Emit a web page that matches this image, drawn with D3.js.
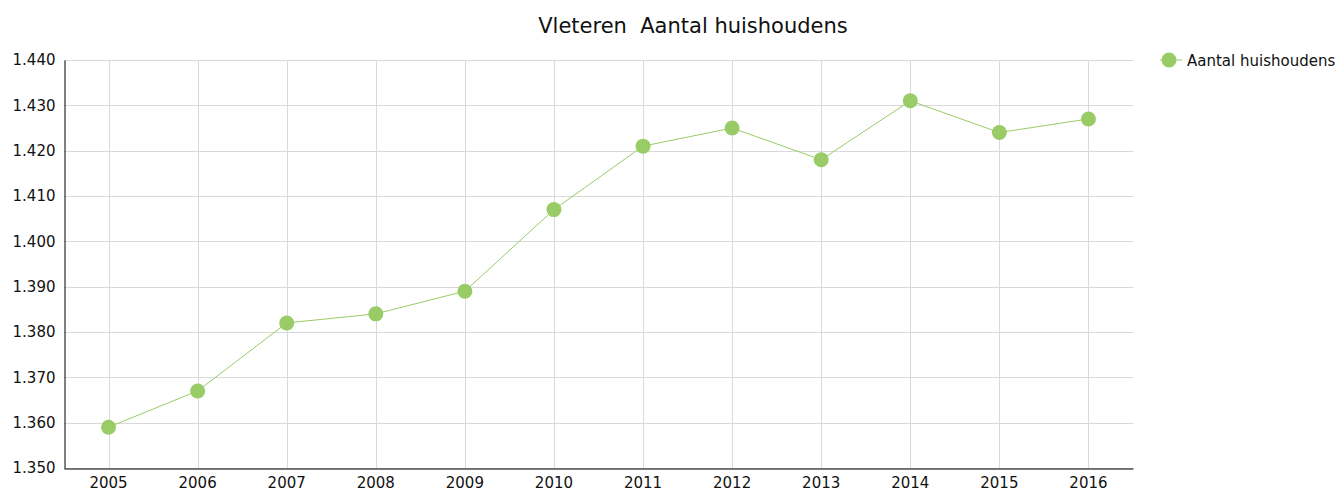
<!DOCTYPE html>
<html>
<head>
<meta charset="utf-8">
<script src="https://cdn.jsdelivr.net/npm/d3@7"></script>
<style>
  body { margin: 0; background: #fff; }
  text { font-family: "DejaVu Sans", sans-serif; fill: #111; }
</style>
</head>
<body>
<div id="chart"></div>
<script>
// data
var years = ["2005", "2006", "2007", "2008", "2009", "2010", "2011", "2012", "2013", "2014", "2015", "2016"];
var households = [1359, 1367, 1382, 1384, 1389, 1407, 1421, 1425, 1418, 1431, 1424, 1427];
var yTicks = [1350, 1360, 1370, 1380, 1390, 1400, 1410, 1420, 1430, 1440];

var svgWidth = 1342;
var svgHeight = 498;
var margin = { top: 60, right: 209, bottom: 30, left: 64 };
var width = svgWidth - margin.left - margin.right;
var height = svgHeight - margin.top - margin.bottom;
var green = "#99cc66";

var svg = d3.select("#chart").append("svg")
  .attr("width", svgWidth)
  .attr("height", svgHeight);

var chartGroup = svg.append("g")
  .attr("transform", `translate(${margin.left}, ${margin.top})`);

var xScale = d3.scaleBand().domain(years).range([0, width]);
var yScale = d3.scaleLinear().domain([1350, 1440]).range([height, 0]);

// 1.350 style labels
var fmt = d => d3.format(".3f")(d / 1000);

// grid
chartGroup.append("g").selectAll("line")
  .data(yTicks).enter().append("line")
  .attr("x1", 0).attr("x2", width)
  .attr("y1", d => Math.round(yScale(d)) + 0.5).attr("y2", d => Math.round(yScale(d)) + 0.5)
  .attr("stroke", "#d9d9d9");

chartGroup.append("g").selectAll("line")
  .data(years).enter().append("line")
  .attr("x1", d => Math.round(xScale(d) + xScale.bandwidth() / 2) + 0.5)
  .attr("x2", d => Math.round(xScale(d) + xScale.bandwidth() / 2) + 0.5)
  .attr("y1", 0).attr("y2", height)
  .attr("stroke", "#d9d9d9");

// axes
var yAxis = d3.axisLeft(yScale).tickValues(yTicks).tickSize(0).tickPadding(9).tickFormat(fmt);
var xAxis = d3.axisBottom(xScale).tickSize(0).tickPadding(9);

var gy = chartGroup.append("g").attr("transform", "translate(0.5,0)").call(yAxis);
gy.select(".domain").attr("stroke", "#000");
gy.selectAll("text").style("font-size", "15px");

var gx = chartGroup.append("g").attr("transform", `translate(0, ${height + 0.5})`).call(xAxis);
gx.select(".domain").attr("stroke", "#000");
gx.selectAll("text").style("font-size", "15px");

// line + points
var line = d3.line()
  .x((d, i) => xScale(years[i]) + xScale.bandwidth() / 2)
  .y(d => yScale(d));

chartGroup.append("path")
  .datum(households)
  .attr("d", line)
  .attr("fill", "none")
  .attr("stroke", green)
  .attr("stroke-width", 1);

chartGroup.selectAll("circle")
  .data(households).enter().append("circle")
  .attr("cx", (d, i) => xScale(years[i]) + xScale.bandwidth() / 2)
  .attr("cy", d => yScale(d))
  .attr("r", 7.5)
  .attr("fill", green);

// title
svg.append("text")
  .attr("x", 693).attr("y", 33)
  .attr("text-anchor", "middle")
  .style("font-size", "21px")
  .style("white-space", "pre")
  .text("Vleteren  Aantal huishoudens");

// legend
var legend = svg.append("g").attr("transform", "translate(1169, 60)");
legend.append("line").attr("x1", -9).attr("x2", 13).attr("y1", 0).attr("y2", 0)
  .attr("stroke", green);
legend.append("circle").attr("r", 7.5).attr("fill", green);
legend.append("text").attr("x", 18).attr("y", 5.5)
  .style("font-size", "15px")
  .text("Aantal huishoudens");
</script>
</body>
</html>
